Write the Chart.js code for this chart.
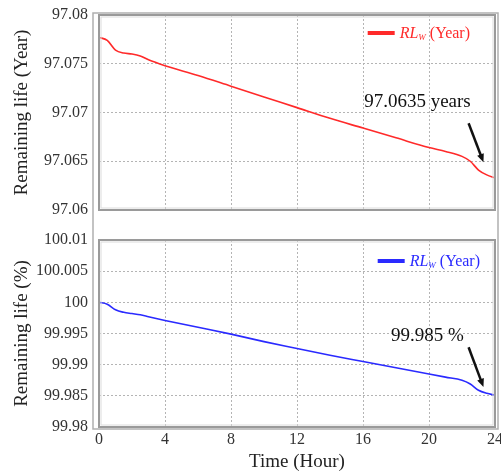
<!DOCTYPE html>
<html><head><meta charset="utf-8">
<script src="https://cdn.jsdelivr.net/npm/chart.js@4.4.0/dist/chart.umd.min.js"></script>
<style>
html,body{margin:0;padding:0;background:#fff;}
#wrap{position:relative;width:501px;height:473px;}
#c1{position:absolute;left:0;top:0;}
#c2{position:absolute;left:0;top:225px;}
</style></head><body>
<div id="wrap">
<canvas id="c1" width="501" height="225"></canvas>
<canvas id="c2" width="501" height="248"></canvas>
</div>
<script>
// Data
const hours = [0,0.5,1,1.5,2,2.5,3,4,6,8,10,12,14,16,18,20,21,22,22.5,23,23.5,24];
const lifeYears = [97.0777,97.0774,97.0764,97.0761,97.0760,97.0758,97.0754,97.0748,97.0738,97.0727,97.0716,97.0705,97.0694,97.0684,97.0674,97.0664,97.0660,97.0655,97.0650,97.0641,97.0636,97.0633];
const lifePercent = [100.0000,99.9997,99.9988,99.9984,99.9982,99.9980,99.9977,99.9971,99.9960,99.9949,99.9937,99.9926,99.9915,99.9905,99.9895,99.9885,99.9880,99.9875,99.9869,99.9859,99.9854,99.9851];
const xTicks = [0,4,8,12,16,20,24];
const yTicksTop = [97.06,97.065,97.07,97.075,97.08];
const yTickLabelsTop = ["97.06","97.065","97.07","97.075","97.08"];
const yTicksBottom = [99.98,99.985,99.99,99.995,100,100.005,100.01];
const yTickLabelsBottom = ["99.98","99.985","99.99","99.995","100","100.005","100.01"];
const legendMain = "RL", legendSub = "W", legendUnit = " (Year)";
const noteTop = {text:"97.0635 years", x:19.3, y:97.0711, ax0:22.4, ay0:97.0689, ax1:23.3, ay1:97.0649};
const noteBottom = {text:"99.985 %", x:19.9, y:99.9946, ax0:22.4, ay0:99.9928, ax1:23.3, ay1:99.9864};

const SERIF = "'Liberation Serif','DejaVu Serif',serif";

function framePlugin(legendColor, legendRightOffset, legendY, note, isTop){
  return {
    id:'frame',
    afterDatasetsDraw(chart){
      const ctx = chart.ctx, a = chart.chartArea;
      ctx.save();
      // outer enclosing frame (spans both panels)
      ctx.strokeStyle = '#b0b0b0'; ctx.lineWidth = 1.5;
      const oL = a.left - 6, oR = a.right + 3;
      ctx.beginPath();
      if (isTop){
        ctx.moveTo(oL, chart.height+1); ctx.lineTo(oL, a.top-2); ctx.lineTo(oR, a.top-2); ctx.lineTo(oR, chart.height+1);
      } else {
        ctx.moveTo(oL, -1); ctx.lineTo(oL, a.bottom+2); ctx.lineTo(oR, a.bottom+2); ctx.lineTo(oR, -1);
      }
      ctx.stroke();
      // panel frame
      ctx.strokeStyle = '#9a9a9a'; ctx.lineWidth = 2;
      ctx.strokeRect(a.left, a.top, a.right-a.left, a.bottom-a.top);
      ctx.strokeStyle = '#dcdcdc'; ctx.lineWidth = 1;
      ctx.strokeRect(a.left+2, a.top+2, a.right-a.left-4, a.bottom-a.top-4);
      // legend
      const fs = 16;
      ctx.font = 'italic '+fs+'px '+SERIF;
      const wMain = ctx.measureText(legendMain).width;
      ctx.font = 'italic 9px '+SERIF;
      const wSub = ctx.measureText(legendSub).width;
      ctx.font = fs+'px '+SERIF;
      const wUnit = ctx.measureText(legendUnit).width;
      const total = wMain + wSub + wUnit;
      const xEnd = a.right - legendRightOffset;
      const xText = xEnd - total;
      ctx.fillStyle = legendColor;
      ctx.textBaseline = 'alphabetic';
      ctx.font = 'italic '+fs+'px '+SERIF;
      ctx.fillText(legendMain, xText, legendY+5);
      ctx.font = 'italic 9px '+SERIF;
      ctx.fillText(legendSub, xText+wMain, legendY+7);
      ctx.font = fs+'px '+SERIF;
      ctx.fillText(legendUnit, xText+wMain+wSub, legendY+5);
      ctx.strokeStyle = legendColor; ctx.lineWidth = 4;
      ctx.beginPath(); ctx.moveTo(xText-32, legendY); ctx.lineTo(xText-5, legendY); ctx.stroke();
      // annotation
      const xs = chart.scales.x, ys = chart.scales.y;
      ctx.fillStyle = '#111';
      ctx.font = '19px '+SERIF;
      ctx.textAlign = 'center'; ctx.textBaseline = 'middle';
      ctx.fillText(note.text, xs.getPixelForValue(note.x), ys.getPixelForValue(note.y));
      const x0 = xs.getPixelForValue(note.ax0), y0 = ys.getPixelForValue(note.ay0);
      const x1 = xs.getPixelForValue(note.ax1), y1 = ys.getPixelForValue(note.ay1);
      const ang = Math.atan2(y1-y0, x1-x0);
      const hl = 9;
      ctx.strokeStyle = '#111'; ctx.lineWidth = 2.5;
      ctx.beginPath(); ctx.moveTo(x0,y0); ctx.lineTo(x1 - Math.cos(ang)*hl*0.8, y1 - Math.sin(ang)*hl*0.8); ctx.stroke();
      ctx.fillStyle = '#111';
      ctx.beginPath();
      ctx.moveTo(x1,y1);
      ctx.lineTo(x1 - hl*Math.cos(ang-0.4), y1 - hl*Math.sin(ang-0.4));
      ctx.lineTo(x1 - hl*Math.cos(ang+0.4), y1 - hl*Math.sin(ang+0.4));
      ctx.closePath(); ctx.fill();
      ctx.restore();
    }
  };
}

function makeChart(id, values, color, yMin, yMax, yTicks, yLabels, yTitle, showX, xHeight, padTop, padBottom, legendRightOffset, legendY, note){
  return new Chart(document.getElementById(id), {
    type:'line',
    data:{ datasets:[{
      label: legendMain+legendSub+legendUnit,
      data: hours.map((h,i)=>({x:h, y:values[i]})),
      borderColor: color, borderWidth: 1.6, pointRadius: 0,
      cubicInterpolationMode: 'monotone', fill:false
    }]},
    options:{
      responsive:false, animation:false, devicePixelRatio:1,
      layout:{padding:{top:padTop, right:6, bottom:padBottom, left:0}},
      plugins:{legend:{display:false}, tooltip:{enabled:false}},
      scales:{
        x:{ type:'linear', min:0, max:24,
          afterBuildTicks(s){ s.ticks = xTicks.map(v=>({value:v})); },
          afterFit(s){ s.height = xHeight; s.paddingRight = 0; s.paddingLeft = 0; },
          grid:{ color:'#b4b4b4', drawTicks:false, tickLength:0 },
          border:{ display:false, dash:[2,2] },
          ticks:{ display:showX, padding:3, color:'#333', font:{family:SERIF, size:16}, maxRotation:0, callback:(v)=>String(v) },
          title:{ display:showX, text:'Time (Hour)', color:'#222', font:{family:SERIF, size:19}, padding:{top:0,bottom:0} }
        },
        y:{ min:yMin, max:yMax,
          afterBuildTicks(s){ s.ticks = yTicks.map(v=>({value:v})); },
          afterFit(s){ s.width = 99; s.paddingTop = 0; s.paddingBottom = 0; },
          grid:{ color:'#b4b4b4', drawTicks:false, tickLength:0 },
          border:{ display:false, dash:[2,2] },
          ticks:{ padding:11, color:'#333', font:{family:SERIF, size:16},
            callback:(v,i)=>yLabels[i] },
          title:{ display:true, text:yTitle, color:'#222', font:{family:SERIF, size:19}, padding:{top:11,bottom:4} }
        }
      }
    },
    plugins:[framePlugin(color, legendRightOffset, legendY, note, id === 'c1')]
  });
}

makeChart('c1', lifeYears, '#ff2a2a', 97.06, 97.08, yTicksTop, yTickLabelsTop, 'Remaining life (Year)', false, 0, 15, 15, 25, 33, noteTop);
makeChart('c2', lifePercent, '#2a2aff', 99.98, 100.01, yTicksBottom, yTickLabelsBottom, 'Remaining life (%)', true, 46, 15, 0, 15, 36, noteBottom);
</script>
</body></html>
